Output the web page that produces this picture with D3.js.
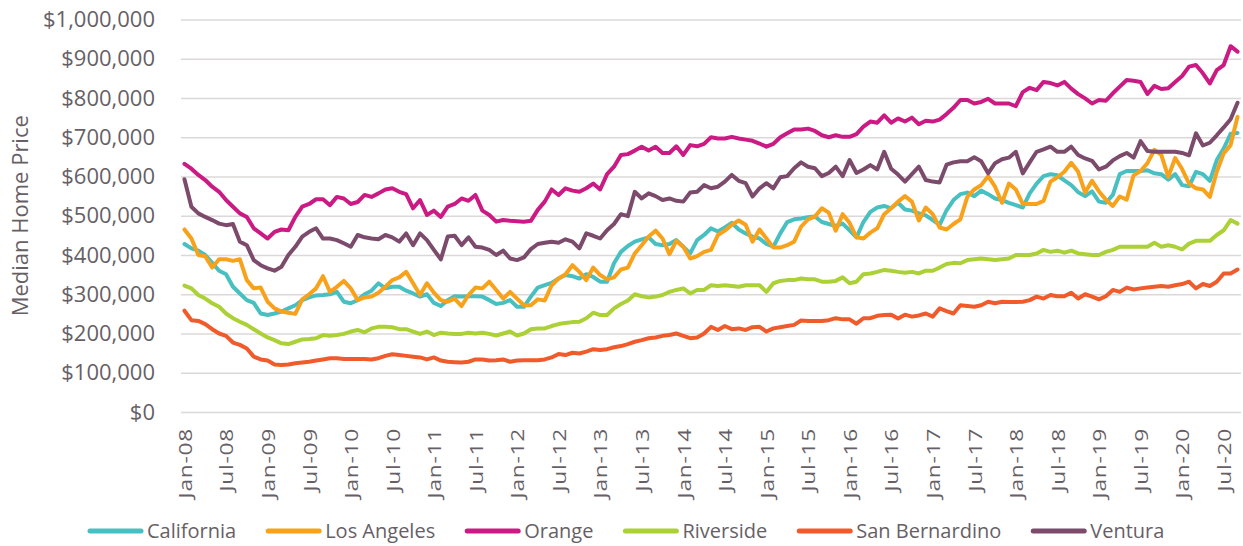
<!DOCTYPE html>
<html>
<head>
<meta charset="utf-8">
<script src="https://cdn.jsdelivr.net/npm/d3@7"></script>
<style>
  body { margin: 0; background: #fff; }
  svg text { font-family: 'Open Sans', sans-serif; fill: #675f66; }
</style>
</head>
<body>
<div id="chart"></div>
<script>
'use strict';

// monthly median home prices, in thousands of dollars, Jan-08 .. Sep-20
const california = [
  428, 417, 411, 400, 380, 360, 351, 319, 302, 285, 278, 251, 247, 251, 256, 264, 272, 285, 292, 297, 298, 300, 306, 281, 277, 285,
  300, 309, 328, 315, 319, 319, 309, 302, 294, 300, 278, 270, 285, 295, 294, 295, 295, 294, 285, 275, 278, 285, 268, 268, 294, 317,
  323, 329, 340, 349, 346, 340, 351, 344, 332, 332, 379, 408, 423, 434, 440, 445, 428, 425, 428, 438, 421, 404, 438, 451, 468, 460,
  470, 482, 465, 455, 447, 442, 428, 421, 455, 484, 491, 493, 496, 498, 484, 479, 474, 480, 463, 445, 484, 510, 521, 525, 519, 533,
  516, 513, 506, 501, 489, 477, 514, 540, 555, 559, 550, 564, 555, 544, 540, 533, 527, 521, 557, 582, 601, 606, 603, 590, 578, 560,
  550, 562, 536, 533, 553, 606, 614, 614, 614, 616, 608, 606, 592, 606, 578, 575, 612, 606, 589, 642, 671, 709, 711
];
const losAngeles = [
  465, 442, 400, 397, 368, 389, 389, 385, 389, 336, 315, 317, 281, 264, 256, 253, 250, 287, 300, 315, 346, 306, 319, 334, 315, 285,
  292, 294, 304, 319, 336, 343, 357, 328, 298, 328, 304, 285, 281, 289, 270, 298, 317, 315, 332, 311, 289, 306, 289, 272, 272, 287,
  284, 323, 340, 351, 374, 357, 336, 368, 349, 338, 343, 363, 368, 404, 425, 447, 462, 442, 402, 436, 421, 391, 397, 408, 413, 451,
  462, 477, 488, 477, 434, 465, 442, 419, 419, 425, 434, 472, 491, 498, 519, 508, 462, 504, 482, 445, 442, 457, 468, 504, 519, 536,
  550, 536, 488, 521, 504, 470, 465, 479, 491, 548, 567, 578, 601, 574, 533, 582, 567, 530, 530, 530, 538, 587, 598, 612, 635, 612,
  559, 589, 562, 541, 525, 549, 541, 603, 614, 634, 668, 655, 599, 647, 619, 582, 570, 567, 548, 612, 659, 680, 752
];
const orange = [
  632, 620, 604, 591, 574, 561, 540, 523, 506, 497, 468, 455, 442, 459, 465, 463, 497, 523, 530, 542, 542, 527, 548, 544, 530, 535,
  553, 548, 557, 567, 570, 561, 555, 519, 540, 502, 513, 497, 523, 530, 544, 538, 553, 513, 502, 485, 489, 487, 486, 485, 487, 515,
  536, 567, 553, 570, 564, 561, 570, 582, 567, 606, 625, 655, 657, 666, 676, 666, 676, 660, 660, 677, 655, 680, 677, 683, 700, 697,
  697, 701, 697, 694, 691, 684, 676, 683, 700, 710, 720, 720, 722, 716, 705, 700, 705, 701, 701, 708, 727, 740, 737, 756, 737, 748,
  740, 750, 733, 742, 740, 745, 759, 775, 795, 795, 786, 790, 798, 786, 786, 786, 779, 815, 826, 820, 841, 838, 832, 841, 824, 810,
  799, 786, 795, 793, 812, 829, 846, 844, 841, 810, 831, 823, 825, 841, 856, 880, 884, 863, 837, 871, 884, 932, 918
];
const riverside = [
  322, 315, 298, 289, 277, 268, 251, 239, 230, 222, 211, 200, 190, 183, 175, 173, 179, 185, 186, 188, 196, 194, 196, 199, 205, 209,
  203, 213, 217, 217, 216, 211, 211, 205, 199, 205, 196, 202, 200, 199, 199, 202, 200, 202, 199, 195, 200, 205, 195, 200, 211, 213,
  213, 219, 224, 227, 229, 230, 239, 253, 247, 247, 264, 275, 284, 300, 295, 292, 294, 298, 306, 311, 315, 302, 311, 311, 323, 321,
  323, 321, 319, 323, 323, 323, 306, 328, 334, 336, 336, 340, 338, 338, 332, 332, 334, 343, 328, 332, 351, 353, 357, 362, 360, 357,
  355, 357, 353, 360, 360, 368, 377, 380, 379, 387, 389, 391, 389, 387, 389, 391, 400, 400, 400, 404, 413, 408, 411, 406, 411, 404,
  402, 400, 400, 408, 413, 421, 421, 421, 421, 421, 431, 421, 425, 421, 414, 429, 436, 436, 436, 451, 463, 489, 480
];
const sanBernardino = [
  258, 234, 232, 224, 211, 200, 194, 177, 171, 162, 141, 134, 131, 121, 120, 121, 124, 126, 128, 131, 134, 137, 137, 135, 135, 135,
  135, 134, 137, 143, 147, 145, 143, 141, 139, 134, 139, 131, 128, 127, 126, 128, 134, 134, 131, 132, 134, 128, 131, 132, 132, 132,
  134, 139, 148, 145, 151, 149, 154, 160, 158, 160, 165, 168, 173, 179, 183, 188, 190, 194, 196, 200, 194, 188, 190, 200, 217, 209,
  219, 211, 213, 209, 216, 217, 205, 213, 216, 219, 222, 233, 232, 232, 232, 234, 239, 236, 236, 225, 239, 239, 245, 247, 248, 238,
  248, 243, 246, 251, 243, 264, 257, 251, 272, 270, 268, 272, 281, 277, 281, 280, 280, 281, 285, 294, 289, 298, 295, 295, 304, 289,
  300, 294, 287, 295, 311, 306, 317, 312, 315, 317, 319, 321, 319, 323, 326, 332, 315, 326, 321, 332, 353, 353, 363
];
const ventura = [
  593, 523, 506, 497, 489, 480, 476, 479, 434, 425, 387, 374, 366, 360, 370, 400, 421, 447, 459, 468, 442, 442, 438, 430, 421, 451,
  445, 442, 440, 451, 445, 434, 455, 425, 455, 438, 413, 389, 447, 449, 425, 445, 421, 419, 413, 400, 411, 391, 387, 394, 415, 428,
  431, 434, 431, 440, 434, 417, 455, 449, 442, 463, 479, 504, 499, 561, 544, 557, 550, 540, 544, 538, 536, 559, 561, 578, 570, 574,
  587, 604, 589, 583, 549, 570, 583, 570, 598, 601, 621, 636, 625, 621, 601, 609, 625, 601, 642, 609, 618, 629, 618, 663, 620, 605,
  587, 606, 625, 591, 587, 585, 630, 636, 639, 639, 649, 639, 608, 634, 644, 648, 663, 608, 636, 663, 669, 676, 663, 663, 676, 655,
  646, 640, 618, 625, 641, 652, 660, 648, 690, 665, 663, 663, 663, 663, 660, 654, 710, 679, 686, 705, 725, 746, 788
];

/** series names, in legend order */
const seriesNames = ['California', 'Los Angeles', 'Orange', 'Riverside', 'San Bernardino', 'Ventura'];
const seriesValues = [california, losAngeles, orange, riverside, sanBernardino, ventura];
const seriesColors = ['#48bfc1', '#f8a21c', '#cb1a84', '#abd136', '#f15b2b', '#7c4b6c'];

/** y axis tick values */
const yTicks = [0, 100000, 200000, 300000, 400000, 500000, 600000, 700000, 800000, 900000, 1000000];

/** the months on the category axis, Jan-08 .. Sep-20 */
const months = d3.timeMonth.range(new Date(2008, 0, 1), new Date(2020, 9, 1));
const monthLabel = d3.timeFormat('%b-%y');

// chart dimensions
const width = 1243;
const height = 546;
const plot = { left: 181, right: 1241, top: 19.5, bottom: 412 };

const svg = d3.select('#chart')
  .append('svg')
    .attr('width', width)
    .attr('height', height);

const x = d3.scalePoint()
  .domain(months.map(d => monthLabel(d)))
  .range([plot.left, plot.right])
  .padding(0.5);

const y = d3.scaleLinear()
  .domain([0, 1000000])
  .range([plot.bottom, plot.top]);

// gridlines + y labels
const yAxis = svg.append('g')
  .attr('transform', `translate(${plot.left},0)`)
  .call(d3.axisLeft(y)
    .tickValues(yTicks)
    .tickSize(-(plot.right - plot.left))
    .tickPadding(26)
    .tickFormat(d3.format('$,')));
yAxis.select('.domain').remove();
yAxis.selectAll('.tick line')
  .attr('stroke', '#dcd8d9')
  .attr('stroke-width', 1.6);
yAxis.selectAll('.tick text')
  .style('font-size', '22px')
  .attr('fill', '#675f66');

// category axis, one label every six months
const xLabelScale = 1.2;
const xAxis = svg.append('g')
  .attr('transform', `translate(0,${plot.bottom})`)
  .call(d3.axisBottom(x)
    .tickValues(x.domain().filter((d, i) => i % 6 === 0))
    .tickSize(0));
xAxis.select('.domain').remove();
xAxis.selectAll('.tick text')
  .style('font-size', '19px')
  .style('letter-spacing', '0.6px')
  .attr('fill', '#675f66')
  .attr('text-anchor', 'end')
  .attr('transform', `rotate(-90) scale(${xLabelScale},1)`)
  .attr('x', -16 / xLabelScale)
  .attr('y', 0)
  .attr('dy', '0.36em');

// y axis title
svg.append('text')
  .attr('transform', `translate(28,${(plot.top + plot.bottom) / 2}) rotate(-90)`)
  .attr('text-anchor', 'middle')
  .style('font-size', '22px')
  .text('Median Home Price');

// the lines
const line = d3.line()
  .x((d, i) => x(monthLabel(months[i])))
  .y(d => y(d * 1000));

svg.append('g')
  .selectAll('path')
  .data(seriesValues)
  .join('path')
    .attr('d', line)
    .attr('fill', 'none')
    .attr('stroke', (d, i) => seriesColors[i])
    .attr('stroke-width', 4)
    .attr('stroke-linejoin', 'round')
    .attr('stroke-linecap', 'round');

// legend
const legend = svg.append('g').attr('transform', 'translate(88,531)');
let legendX = 0;
seriesNames.forEach((name, i) => {
  const item = legend.append('g').attr('transform', `translate(${legendX},0)`);
  item.append('line')
    .attr('x1', 2).attr('x2', 53)
    .attr('stroke', seriesColors[i])
    .attr('stroke-width', 5)
    .attr('stroke-linecap', 'round');
  const label = item.append('text')
    .attr('x', 59)
    .attr('y', 7)
    .style('font-size', '20px')
    .text(name);
  legendX += 59 + label.node().getComputedTextLength() + 30;
});
</script>
</body>
</html>
